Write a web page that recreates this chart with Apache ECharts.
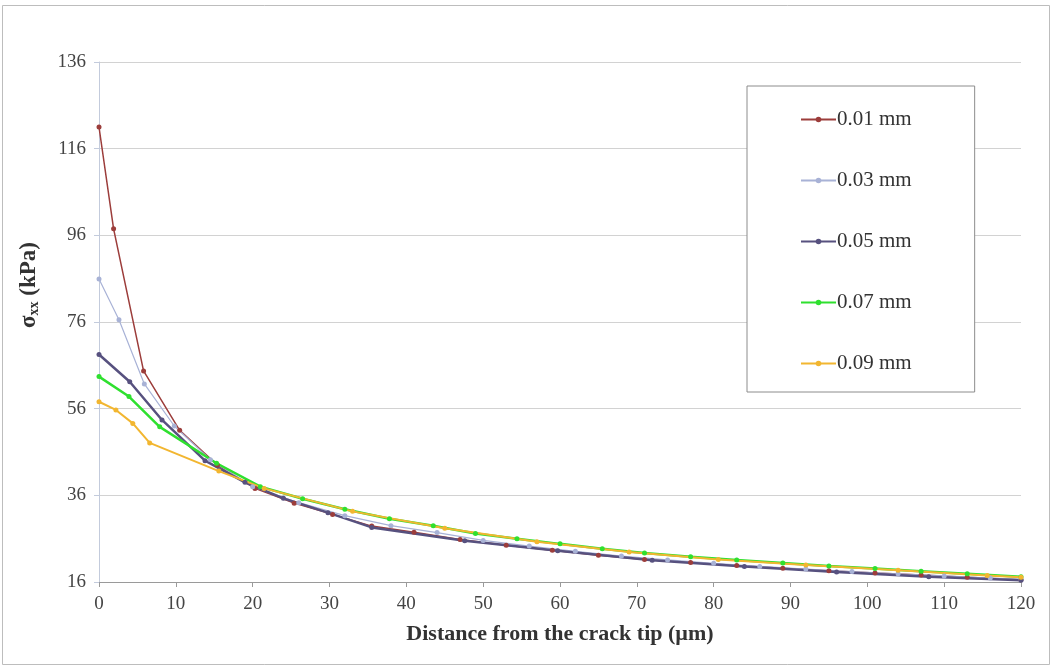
<!DOCTYPE html>
<html>
<head>
<meta charset="utf-8">
<script src="https://cdn.jsdelivr.net/npm/echarts@6/dist/echarts.min.js"></script>
<style>
    html, body {margin: 0; padding: 0; background: #fff;}
    #chart {width: 1053px; height: 670px;}
</style>
</head>
<body>
<div id="chart"></div>
<script>
// Series names (crack widths)
const seriesNames = ['0.01 mm', '0.03 mm', '0.05 mm', '0.07 mm', '0.09 mm'];

// [distance from crack tip (µm), sigma_xx (kPa)]
const s001 = [[0, 121], [1.9, 97.5], [5.8, 64.7], [10.5, 51], [15.4, 43], [20.3, 37.6], [25.4, 34.2],
    [30.4, 31.6], [35.5, 28.9], [41, 27.5], [47, 25.8], [53, 24.5], [59, 23.3], [65, 22.2], [71, 21.2],
    [77, 20.5], [83, 19.8], [89, 19.2], [95, 18.6], [101, 18.1], [107, 17.6], [113, 17.1], [120, 16.5]];
const s003 = [[0, 85.9], [2.6, 76.5], [5.9, 61.7], [9.8, 52], [14.5, 44.2], [20, 38], [26, 34.3],
    [32, 31.3], [38, 29], [44, 27.4], [50, 25.6], [56, 24.3], [62, 23.1], [68, 22], [74, 21.1],
    [80, 20.3], [86, 19.6], [92, 19], [98, 18.4], [104, 17.9], [110, 17.4], [116, 16.9], [120, 16.6]];
const s005 = [[0, 68.5], [4, 62.2], [8.2, 53.4], [13.8, 44], [19, 39], [24, 35.3], [29.8, 32],
    [35.5, 28.6], [47.6, 25.5], [59.7, 23.2], [72, 21], [84, 19.6], [96, 18.3], [108, 17.2], [120, 16.4]];
const s007 = [[0, 63.4], [3.9, 58.8], [7.9, 51.8], [15.3, 43.4], [21, 38], [26.5, 35.2], [32, 32.8],
    [37.8, 30.6], [43.5, 29], [49, 27.2], [54.4, 26], [60, 24.8], [65.5, 23.7], [71, 22.7], [77, 21.8],
    [83, 21.1], [89, 20.4], [95, 19.7], [101, 19.1], [107, 18.5], [113, 17.9], [120, 17.2]];
const s009 = [[0, 57.6], [2.2, 55.7], [4.4, 52.6], [6.6, 48.1], [15.6, 41.6], [21.5, 37.6], [33, 32.3],
    [45, 28.4], [57, 25.3], [69, 22.9], [80.6, 21.2], [92, 19.9], [104, 18.7], [115.6, 17.5], [120, 17.1]];

const seriesData = [s001, s003, s005, s007, s009];
const lineColors = ['#9c3d3b', '#a8b2d6', '#57517f', '#2fe02f', '#f2b630'];
const lineWidths = [1.5, 1.2, 2.5, 2.5, 2];

const serif = '"Liberation Serif", "DejaVu Serif", serif';

const chart = echarts.init(document.getElementById('chart'));

const series = seriesData.map((d, i) => ({
    name: seriesNames[i],
    type: 'line',
    data: d,
    symbol: 'circle',
    symbolSize: 5,
    color: lineColors[i],
    lineStyle: {width: lineWidths[i], color: lineColors[i]},
    itemStyle: {color: lineColors[i]},
    animation: false
}));

chart.setOption({
    backgroundColor: '#fff',
    graphic: [{
        type: 'rect',
        shape: {x: 2.5, y: 5.5, width: 1047, height: 659},
        style: {fill: 'none', stroke: '#bdbdbd', lineWidth: 1},
        silent: true
    }],
    grid: {left: 99, right: 32, top: 62, bottom: 88},
    legend: {
        orient: 'vertical',
        left: 747,
        top: 86,
        data: seriesNames,
        itemWidth: 35,
        itemHeight: 7,
        itemGap: 40,
        padding: [23, 63, 18, 53],
        backgroundColor: '#fff',
        borderColor: '#8c8c8c',
        borderWidth: 1,
        textStyle: {fontFamily: serif, fontSize: 21, color: '#333', padding: [0, 0, 0, -4]}
    },
    xAxis: {
        type: 'value',
        min: 0,
        max: 120,
        interval: 10,
        name: 'Distance from the crack tip (\u00b5m)',
        nameLocation: 'middle',
        nameGap: 41,
        nameTextStyle: {fontFamily: serif, fontSize: 22, fontWeight: 'bold', color: '#333'},
        axisLine: {show: true, lineStyle: {color: '#9a9a9a'}},
        axisTick: {show: true, length: 5, lineStyle: {color: '#9a9a9a'}},
        axisLabel: {fontFamily: serif, fontSize: 19, color: '#444', margin: 13},
        splitLine: {show: false}
    },
    yAxis: {
        type: 'value',
        min: 16,
        max: 136,
        interval: 20,
        name: '{a|\u03c3}{b|xx}{a| (kPa)}',
        nameLocation: 'middle',
        nameGap: 58,
        nameRotate: 90,
        nameTextStyle: {
            padding: [0, 0, 0, 74],
            rich: {
                a: {fontFamily: serif, fontSize: 23, fontWeight: 'bold', color: '#333'},
                b: {fontFamily: serif, fontSize: 14, fontWeight: 'bold', color: '#333', padding: [9, 0, 0, 0]}
            }
        },
        axisLine: {show: true, lineStyle: {color: '#c3cbdc'}},
        axisTick: {show: true, length: 5, lineStyle: {color: '#c3cbdc'}},
        axisLabel: {fontFamily: serif, fontSize: 19, color: '#444', margin: 13},
        splitLine: {show: true, lineStyle: {color: '#d2d2d2', width: 1}}
    },
    series: series
});
</script>
</body>
</html>
